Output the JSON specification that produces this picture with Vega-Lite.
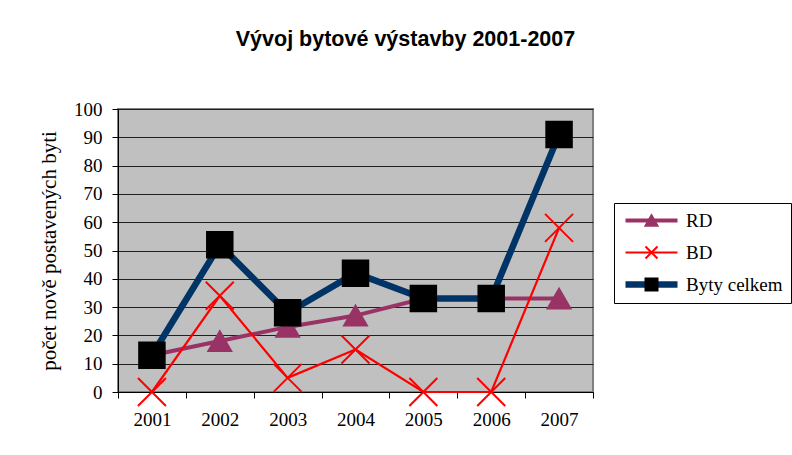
{
  "$schema": "https://vega.github.io/schema/vega-lite/v6.json",
  "width": 475,
  "height": 283,
  "autosize": {"type": "none"},
  "padding": {"left": 118, "top": 109, "right": 199, "bottom": 63},
  "background": "white",
  "title": {
    "text": "Vývoj bytové výstavby 2001-2007",
    "font": "Liberation Sans",
    "fontSize": 21.5,
    "fontWeight": "bold",
    "color": "#000000",
    "anchor": "middle",
    "frame": "group",
    "dx": 50,
    "offset": 50
  },
  "config": {
    "view": {"fill": "#C0C0C0", "stroke": "#808080", "strokeWidth": 2},
    "axis": {"labelFont": "Liberation Serif", "labelFontSize": 19, "labelColor": "#000000", "titleFont": "Liberation Serif", "titleColor": "#000000"},
    "legend": {"labelFont": "Liberation Serif"}
  },
  "data": {
    "values": [
      {"year": "2001", "series": "RD", "ord": 1, "value": 13},
      {"year": "2002", "series": "RD", "ord": 1, "value": 18},
      {"year": "2003", "series": "RD", "ord": 1, "value": 23},
      {"year": "2004", "series": "RD", "ord": 1, "value": 27},
      {"year": "2005", "series": "RD", "ord": 1, "value": 33},
      {"year": "2006", "series": "RD", "ord": 1, "value": 33},
      {"year": "2007", "series": "RD", "ord": 1, "value": 33},
      {"year": "2001", "series": "BD", "ord": 2, "value": 0},
      {"year": "2002", "series": "BD", "ord": 2, "value": 34},
      {"year": "2003", "series": "BD", "ord": 2, "value": 5},
      {"year": "2004", "series": "BD", "ord": 2, "value": 15},
      {"year": "2005", "series": "BD", "ord": 2, "value": 0},
      {"year": "2006", "series": "BD", "ord": 2, "value": 0},
      {"year": "2007", "series": "BD", "ord": 2, "value": 58},
      {"year": "2001", "series": "Byty celkem", "ord": 3, "value": 13},
      {"year": "2002", "series": "Byty celkem", "ord": 3, "value": 52},
      {"year": "2003", "series": "Byty celkem", "ord": 3, "value": 28},
      {"year": "2004", "series": "Byty celkem", "ord": 3, "value": 42},
      {"year": "2005", "series": "Byty celkem", "ord": 3, "value": 33},
      {"year": "2006", "series": "Byty celkem", "ord": 3, "value": 33},
      {"year": "2007", "series": "Byty celkem", "ord": 3, "value": 91}
    ]
  },
  "encoding": {
    "x": {
      "field": "year",
      "type": "ordinal",
      "scale": {"type": "band", "paddingInner": 0, "paddingOuter": 0},
      "axis": {
        "title": null,
        "tickBand": "extent",
        "labelAngle": 0,
        "labelPadding": 12,
        "labelFont": "Liberation Serif",
        "tickSize": 6,
        "tickColor": "#000000",
        "domainColor": "#000000",
        "grid": false
      }
    },
    "y": {
      "field": "value",
      "type": "quantitative",
      "scale": {"domain": [0, 100], "nice": false},
      "axis": {
        "title": "počet nově postavených byti",
        "titleFontSize": 21,
        "titleFontWeight": "normal",
        "titlePadding": 14,
        "labelFont": "Liberation Serif",
        "values": [0, 10, 20, 30, 40, 50, 60, 70, 80, 90, 100],
        "tickSize": 6,
        "labelPadding": 10,
        "tickColor": "#000000",
        "domainColor": "#000000",
        "grid": true,
        "gridColor": "#202020",
        "gridOpacity": 1,
        "gridWidth": 1
      }
    }
  },
  "layer": [
    {
      "mark": {"type": "line", "strokeJoin": "miter"},
      "encoding": {
        "color": {
          "field": "series",
          "type": "nominal",
          "sort": {"field": "ord", "op": "min"},
          "scale": {"range": ["#993366", "#FF0000", "#003366"]},
          "legend": {
            "orient": "none",
            "legendX": 496,
            "legendY": 94,
            "title": null,
            "symbolType": "stroke",
            "symbolSize": 2704,
            "clipHeight": 19,
            "labelFont": "Liberation Serif",
            "labelFontSize": 19,
            "labelColor": "#000000",
            "labelOffset": 5,
            "rowPadding": 12,
            "padding": 8,
            "strokeColor": "#000000"
          }
        },
        "strokeWidth": {
          "field": "series",
          "type": "nominal",
          "sort": {"field": "ord", "op": "min"},
          "scale": {"type": "ordinal", "range": [4, 2.2, 6.5]}
        },
        "order": {"field": "ord"}
      }
    },
    {
      "mark": {"type": "point", "filled": true, "opacity": 1, "strokeWidth": 2},
      "encoding": {
        "shape": {
          "field": "series",
          "type": "nominal",
          "scale": {"domain": ["RD", "BD", "Byty celkem"], "range": ["triangle-up", "M-1,-1L1,1M-1,1L1,-1", "square"]},
          "legend": {
            "orient": "none",
            "legendX": 516,
            "legendY": 94,
            "title": null,
            "symbolSize": 144,
            "symbolStrokeWidth": 2,
            "clipHeight": 19,
            "labelFontSize": 19,
            "labelExpr": "''",
            "labelOffset": 5,
            "rowPadding": 12,
            "padding": 8
          }
        },
        "fill": {
          "field": "series",
          "type": "nominal",
          "scale": {"domain": ["RD", "BD", "Byty celkem"], "range": ["#993366", "#FF0000", "#000000"]}
        },
        "stroke": {
          "field": "series",
          "type": "nominal",
          "scale": {"domain": ["RD", "BD", "Byty celkem"], "range": ["#993366", "#FF0000", "#000000"]}
        },
        "size": {
          "field": "series",
          "type": "ordinal",
          "scale": {"type": "ordinal", "domain": ["BD", "Byty celkem", "RD"], "range": [784, 650, 520]},
          "legend": null
        }
      }
    }
  ]
}
